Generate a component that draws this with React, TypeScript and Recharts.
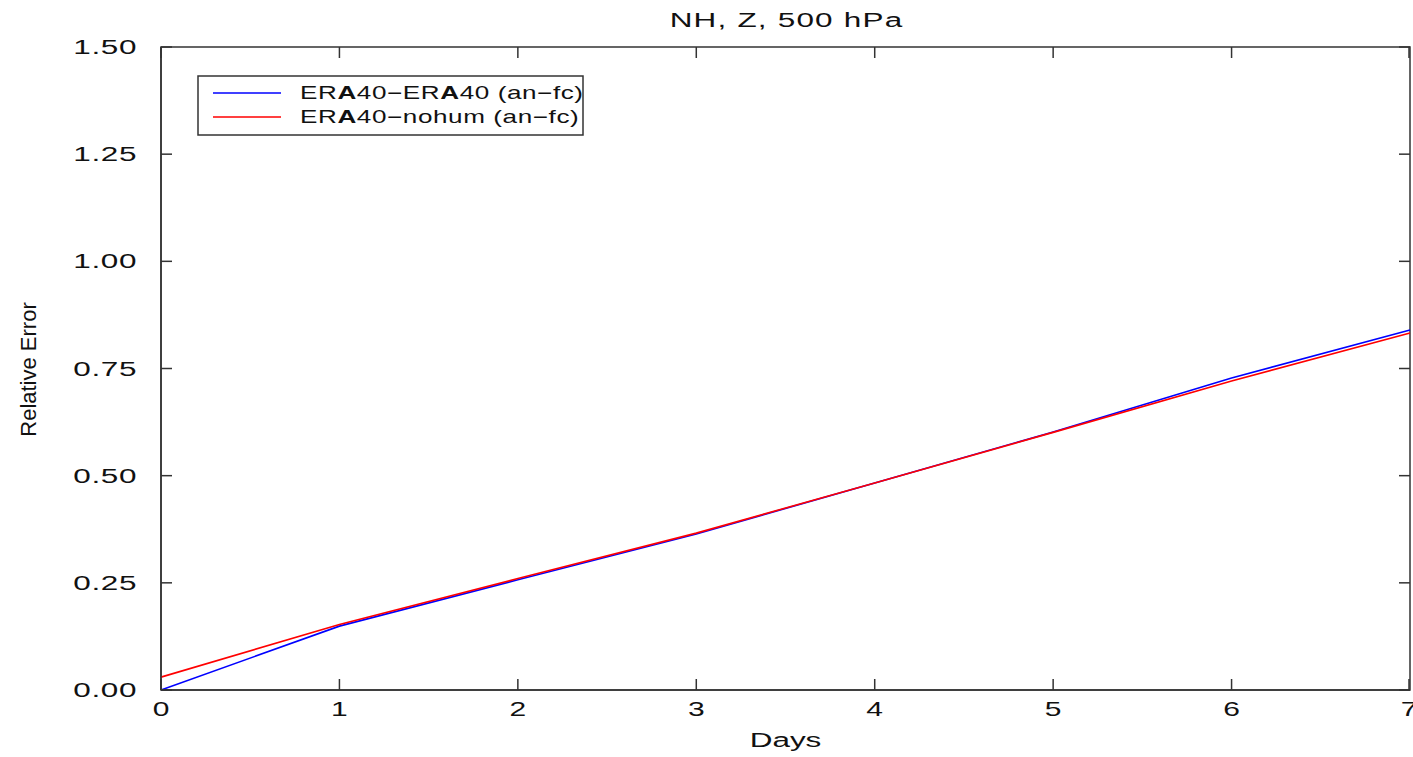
import React from 'react';
import { LineChart, Line, XAxis, YAxis, ReferenceArea } from 'recharts';

const days = [0, 1, 2, 3, 4, 5, 6, 7];
const era40Era40 = [0.0, 0.149, 0.257, 0.364, 0.483, 0.602, 0.728, 0.84];
const era40Nohum = [0.03, 0.153, 0.26, 0.366, 0.483, 0.601, 0.721, 0.833];
const xTicks = [0, 1, 2, 3, 4, 5, 6, 7];
const yTicks = [0, 0.25, 0.5, 0.75, 1.0, 1.25, 1.5];
const seriesNames = ['ERA40\u2212ERA40 (an\u2212fc)', 'ERA40\u2212nohum (an\u2212fc)'];
const seriesColors = ['#0000ff', '#ff0000'];
const title = 'NH, Z, 500 hPa';
const xTitle = 'Days';
const yTitle = 'Relative Error';

const data = days.map((d, i) => ({ day: d, a: era40Era40[i], b: era40Nohum[i] }));

const FONT = '"Liberation Sans", Arial, sans-serif';
const AXIS = '#333';
const INK = '#111';
const STRETCH = 1.5;

// layout constants (plot frame)
const PL = 161, PR = 1410, PT = 47, PB = 690, TICK = 11;

const YLabel = () => {
  const cx = 28;
  const cy = (PT + PB) / 2 + 1;
  return (
    <text x={cx} y={cy} transform={`rotate(-90 ${cx} ${cy})`} textAnchor="middle" dominantBaseline="central"
      fontFamily={FONT} fontSize={22} fill={INK}>{yTitle}</text>
  );
};

const XLabel = () => {
  const cx = (PL + PR) / 2;
  return (
    <text transform={`translate(${cx} 740) scale(${STRETCH} 1)`} textAnchor="middle" dominantBaseline="central"
      fontFamily={FONT} fontSize={21} fill={INK}>{xTitle}</text>
  );
};

const LeftTick = (p: any) => {
  const y = p.y;
  return (
    <g>
      <line x1={PL} x2={PL + TICK} y1={y} y2={y} stroke={AXIS} strokeWidth={1.5} />
      <line x1={PR - TICK} x2={PR} y1={y} y2={y} stroke={AXIS} strokeWidth={1.5} />
      <text transform={`translate(137 ${y}) scale(${STRETCH} 1)`} textAnchor="end" dominantBaseline="central"
        fontFamily={FONT} fontSize={21} letterSpacing={0.4} fill={INK}>{Number(p.payload.value).toFixed(2)}</text>
    </g>
  );
};

const BottomTick = (p: any) => {
  const x = p.x;
  return (
    <g>
      <line x1={x} x2={x} y1={PB - TICK} y2={PB} stroke={AXIS} strokeWidth={1.5} />
      <line x1={x} x2={x} y1={PT} y2={PT + TICK} stroke={AXIS} strokeWidth={1.5} />
      <text transform={`translate(${x} 709) scale(${STRETCH} 1)`} textAnchor="middle" dominantBaseline="central"
        fontFamily={FONT} fontSize={20} fill={INK}>{String(p.payload.value)}</text>
    </g>
  );
};

const boldA = (s: string) => {
  const parts = s.split('A');
  const out: React.ReactNode[] = [];
  parts.forEach((p, i) => {
    out.push(<tspan key={'p' + i}>{p}</tspan>);
    if (i < parts.length - 1) out.push(<tspan key={'b' + i} fontWeight="bold">A</tspan>);
  });
  return out;
};

export default function App() {
  return (
    <div style={{ position: 'absolute', left: 0, top: 0, width: 1413, height: 757, background: '#fff' }}>
      <LineChart width={1413} height={757} data={data} margin={{ top: PT, right: 1413 - PR, bottom: 0, left: 0 }}>
        <XAxis dataKey="day" type="number" domain={[0, 7]} ticks={xTicks} orientation="bottom"
          height={757 - PB} stroke={AXIS} strokeWidth={1.5} tickLine={false}
          tick={<BottomTick />} label={<XLabel />} />
        <YAxis type="number" domain={[0, 1.5]} ticks={yTicks} orientation="left" width={PL}
          stroke={AXIS} strokeWidth={1.5} tickLine={false} tick={<LeftTick />} label={<YLabel />} />
        <ReferenceArea x1={0} x2={7} y1={0} y2={1.5} fill="none" fillOpacity={0} stroke={AXIS} strokeWidth={1.5} />
        <Line type="linear" dataKey="a" stroke={seriesColors[0]} strokeWidth={1.6} dot={false} isAnimationActive={false} />
        <Line type="linear" dataKey="b" stroke={seriesColors[1]} strokeWidth={1.6} dot={false} isAnimationActive={false} />
      </LineChart>
      <svg width={1413} height={757} style={{ position: 'absolute', left: 0, top: 0, pointerEvents: 'none' }}>
        <text transform={`translate(${(PL + PR) / 2 + 1} 20) scale(${STRETCH} 1)`} textAnchor="middle" dominantBaseline="central"
          fontFamily={FONT} fontSize={21} letterSpacing={0.8} fill={INK}>{title}</text>
        <rect x={198} y={76} width={385} height={59} fill="#fff" stroke={AXIS} strokeWidth={1.5} />
        {seriesNames.map((n, i) => (
          <g key={n}>
            <line x1={213} x2={281} y1={93 + i * 24} y2={93 + i * 24} stroke={seriesColors[i]} strokeWidth={1.5} />
            <text transform={`translate(300 ${93 + i * 24}) scale(1.45 1)`} dominantBaseline="central"
              fontFamily={FONT} fontSize={18} letterSpacing={0.4} fill={INK}>{boldA(n)}</text>
          </g>
        ))}
      </svg>
    </div>
  );
}
